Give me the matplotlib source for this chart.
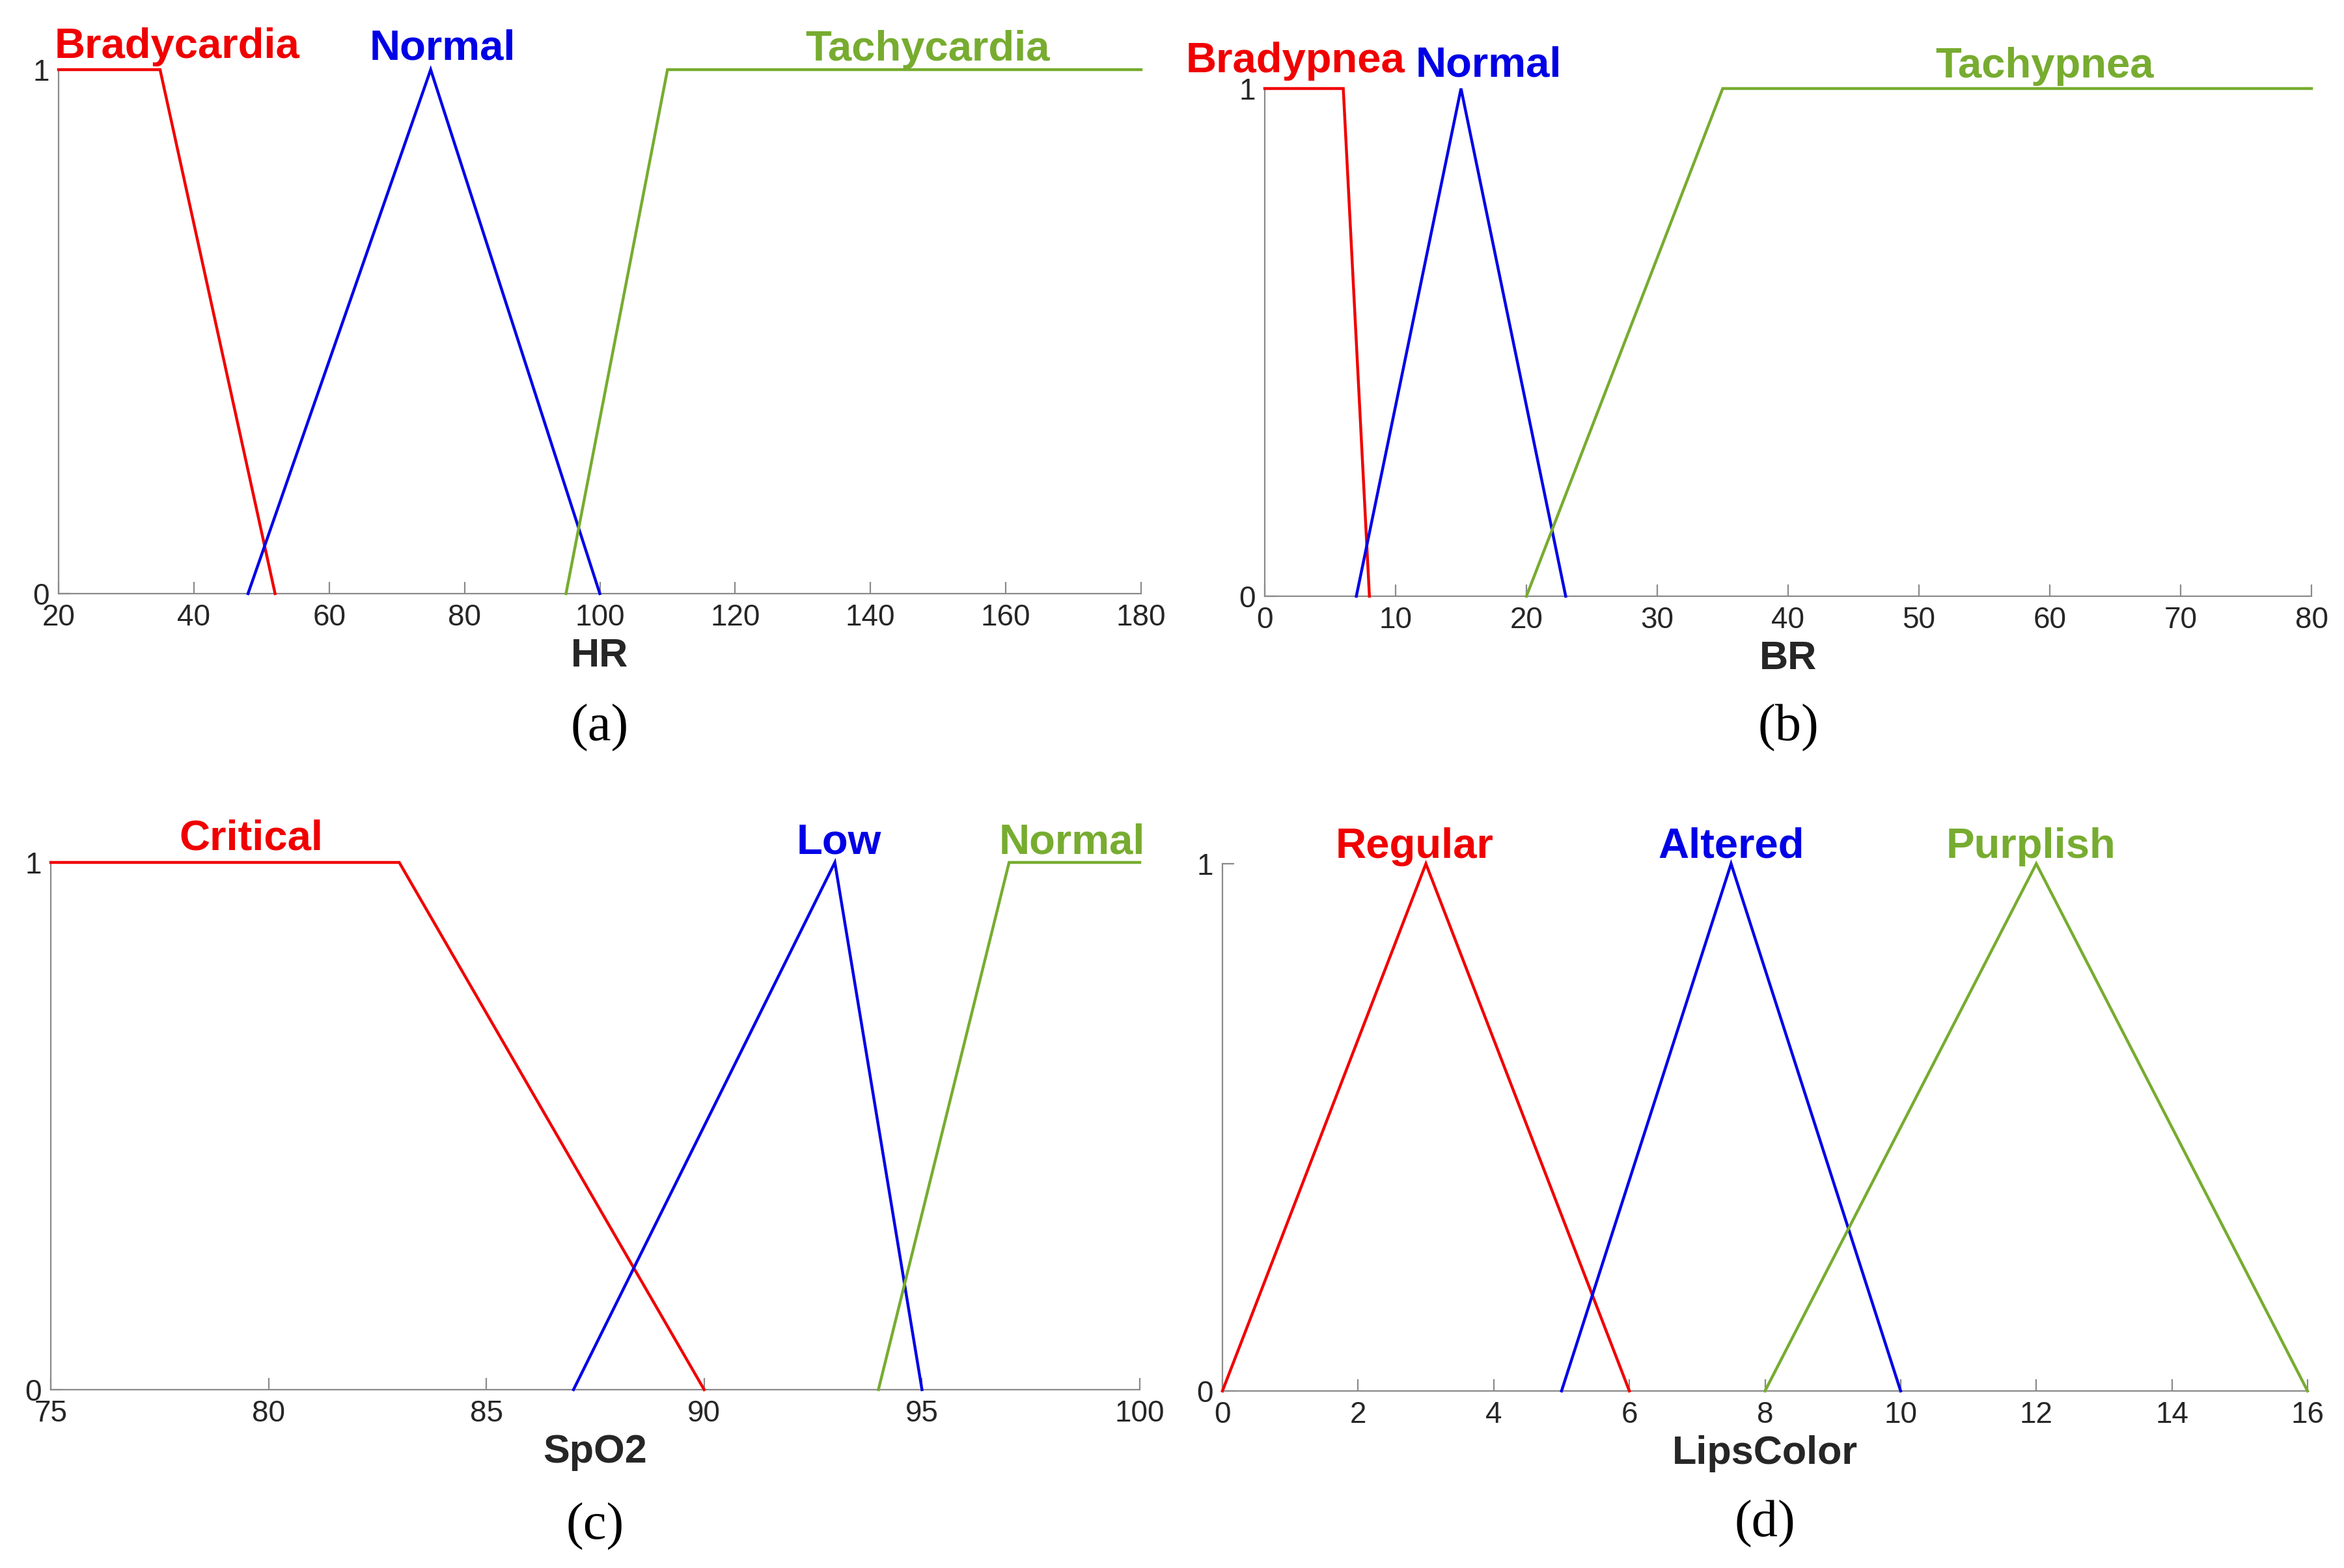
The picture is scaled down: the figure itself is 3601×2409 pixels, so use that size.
import numpy as np
import matplotlib
matplotlib.use("Agg")
import matplotlib.pyplot as plt

# ---- data: membership functions ----
hr_names = ["Bradycardia", "Normal", "Tachycardia"]
hr_x = [[20, 35, 52], [48, 75, 100], [95, 110, 180]]
hr_y = [[1, 1, 0], [0, 1, 0], [0, 1, 1]]
hr_ticks = [20, 40, 60, 80, 100, 120, 140, 160, 180]

br_names = ["Bradypnea", "Normal", "Tachypnea"]
br_x = [[0, 6, 8], [7, 15, 23], [20, 35, 80]]
br_y = [[1, 1, 0], [0, 1, 0], [0, 1, 1]]
br_ticks = [0, 10, 20, 30, 40, 50, 60, 70, 80]

spo2_names = ["Critical", "Low", "Normal"]
spo2_x = [[75, 83, 90], [87, 93, 95], [94, 97, 100]]
spo2_y = [[1, 1, 0], [0, 1, 0], [0, 1, 1]]
spo2_ticks = [75, 80, 85, 90, 95, 100]

lips_names = ["Regular", "Altered", "Purplish"]
lips_x = [[0, 3, 6], [5, 7.5, 10], [8, 12, 16]]
lips_y = [[0, 1, 0], [0, 1, 0], [0, 1, 0]]
lips_ticks = [0, 2, 4, 6, 8, 10, 12, 14, 16]

# where the term names sit (x in data units, lift above y=1 in pixels)
hr_label_x = [37.5, 76.8, 148.4]
hr_label_lift = [18, 15, 14]
br_label_x = [2.35, 17.1, 59.6]
br_label_lift = [25, 19, 17]
spo2_label_x = [79.6, 93.1, 98.45]
spo2_label_lift = [19, 13, 13]
lips_label_x = [2.83, 7.5, 11.92]
lips_label_lift = [9, 9, 9]

colors = ["#f00000", "#0000e6", "#77ac30"]

W, H = 3601, 2409
fig = plt.figure(figsize=(W / 100, H / 100), dpi=100)

px = 0.72  # points per pixel at dpi 100


def make_axes(left, top, right, bottom):
    return fig.add_axes([left / W, 1 - bottom / H, (right - left) / W, (bottom - top) / H])


def draw_panel(ax, xs, ys, names, ticks, lab_x, lab_lift, xlabel, tag, tag_y):
    for k in range(len(names)):
        ax.plot(xs[k], ys[k], color=colors[k], lw=3.2, clip_on=False, zorder=3,
                solid_joinstyle="miter")
        ax.annotate(names[k], xy=(lab_x[k], 1), xycoords="data",
                    xytext=(0, lab_lift[k] * px), textcoords="offset points",
                    ha="center", va="baseline", color=colors[k],
                    fontsize=47, fontweight="bold", family="Liberation Sans")
    ax.set_xlim(ticks[0], ticks[-1])
    ax.set_ylim(0, 1)
    ax.set_xticks(ticks)
    ax.set_yticks([0, 1])
    ax.spines["top"].set_visible(False)
    ax.spines["right"].set_visible(False)
    for s in ["left", "bottom"]:
        ax.spines[s].set_color("#8a8a8a")
        ax.spines[s].set_linewidth(1.6)
    ax.tick_params(direction="in", length=13, width=1.6, color="#8a8a8a",
                   labelcolor="#262626", labelsize=33)
    ax.tick_params(axis="x", pad=11)
    ax.tick_params(axis="y", pad=10)
    for t in ax.get_xticklabels() + ax.get_yticklabels():
        t.set_family("Liberation Sans")
    ax.annotate(xlabel, xy=(0.5, 0), xycoords="axes fraction",
                xytext=(0, -112 * px), textcoords="offset points",
                ha="center", va="baseline", fontsize=44, fontweight="bold",
                color="#262626", family="Liberation Sans")
    ax.annotate(tag, xy=(0.5, 0), xycoords="axes fraction",
                xytext=(0, -tag_y * px), textcoords="offset points",
                ha="center", va="center", fontsize=58,
                color="black", family="Liberation Serif")


ax_a = make_axes(90, 107, 1753, 912)
ax_b = make_axes(1943, 136, 3551, 916)
ax_c = make_axes(78, 1325, 1751, 2135)
ax_d = make_axes(1878, 1327, 3545, 2137)

draw_panel(ax_a, hr_x, hr_y, hr_names, hr_ticks, hr_label_x, hr_label_lift, "HR", "(a)", 206)
draw_panel(ax_b, br_x, br_y, br_names, br_ticks, br_label_x, br_label_lift, "BR", "(b)", 202)
draw_panel(ax_c, spo2_x, spo2_y, spo2_names, spo2_ticks, spo2_label_x, spo2_label_lift, "SpO2", "(c)", 210)
draw_panel(ax_d, lips_x, lips_y, lips_names, lips_ticks, lips_label_x, lips_label_lift, "LipsColor", "(d)", 204)

fig.savefig("out.png", dpi=100, facecolor="white")
